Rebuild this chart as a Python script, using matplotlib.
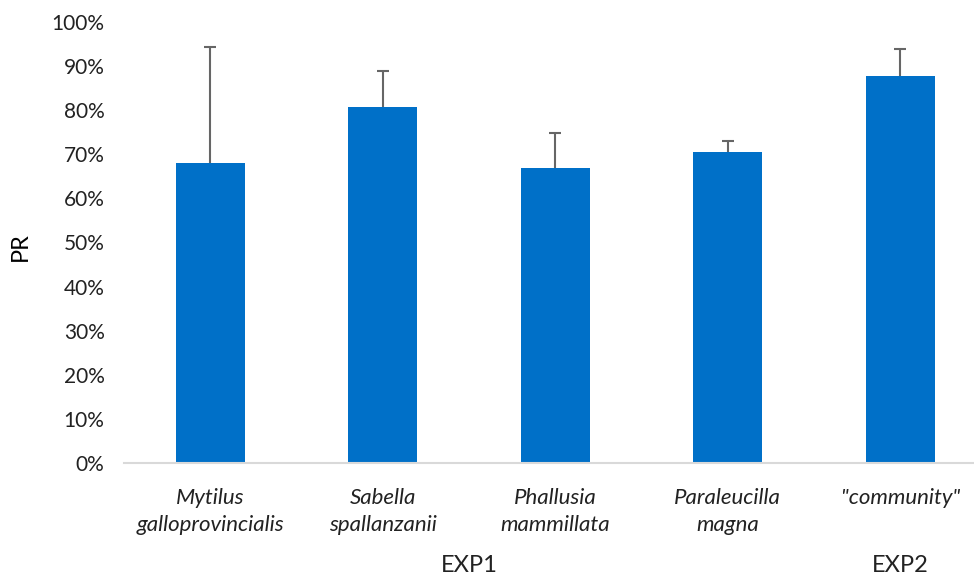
import matplotlib.pyplot as plt
import matplotlib.transforms as mtransforms
from matplotlib.ticker import PercentFormatter

categories = ["Mytilus\ngalloprovincialis", "Sabella\nspallanzanii",
              "Phallusia\nmammillata", "Paraleucilla\nmagna", "\"community\""]
pr_values = [0.681, 0.808, 0.668, 0.706, 0.878]
pr_errors = [0.263, 0.080, 0.080, 0.024, 0.060]
groups = ["EXP1", "EXP2"]
group_pos = [1.5, 4.0]

plt.rcParams['font.family'] = ['Lato', 'DejaVu Sans']

fig = plt.figure(figsize=(9.74, 5.78), dpi=100)
ax = fig.add_axes([124/974, (578-463)/578, 850/974, 441/578])

x = list(range(len(categories)))
ax.bar(x, pr_values, width=0.4, color="#0070C8", zorder=2)
_, caps, _ = ax.errorbar(x, pr_values, yerr=[[0]*len(pr_errors), pr_errors], fmt="none",
                         ecolor="#666666", elinewidth=1.5, capsize=4.5, capthick=1.5, zorder=3)
# keep only the upper caps
for c in caps:
    if list(c.get_ydata()) == pr_values:
        c.set_visible(False)

ax.set_xlim(-0.5, -0.5 + 850/172.5)
ax.set_ylim(0, 1.0)
ax.set_yticks([i/10 for i in range(11)])
ax.yaxis.set_major_formatter(PercentFormatter(1.0, decimals=0))
ax.tick_params(axis="y", length=0, labelsize=15, pad=14, colors="#222222")
ax.set_xticks(x)
ax.set_xticklabels(categories, style="italic", fontsize=16, linespacing=1.45)
ax.tick_params(axis="x", length=0, pad=18, colors="#222222")

for s in ["top", "right", "left"]:
    ax.spines[s].set_visible(False)
ax.spines["bottom"].set_color("#D9D9D9")
ax.spines["bottom"].set_linewidth(1.5)

ax.set_ylabel("PR", fontsize=17)
ax.yaxis.set_label_coords(-0.11, 0.49)

trans = mtransforms.blended_transform_factory(ax.transData, fig.transFigure)
for g, p in zip(groups, group_pos):
    ax.text(p, 1 - 565/578, g, transform=trans, ha="center", va="center",
            fontsize=17, color="#222222")

fig.savefig("out.png", dpi=100)
